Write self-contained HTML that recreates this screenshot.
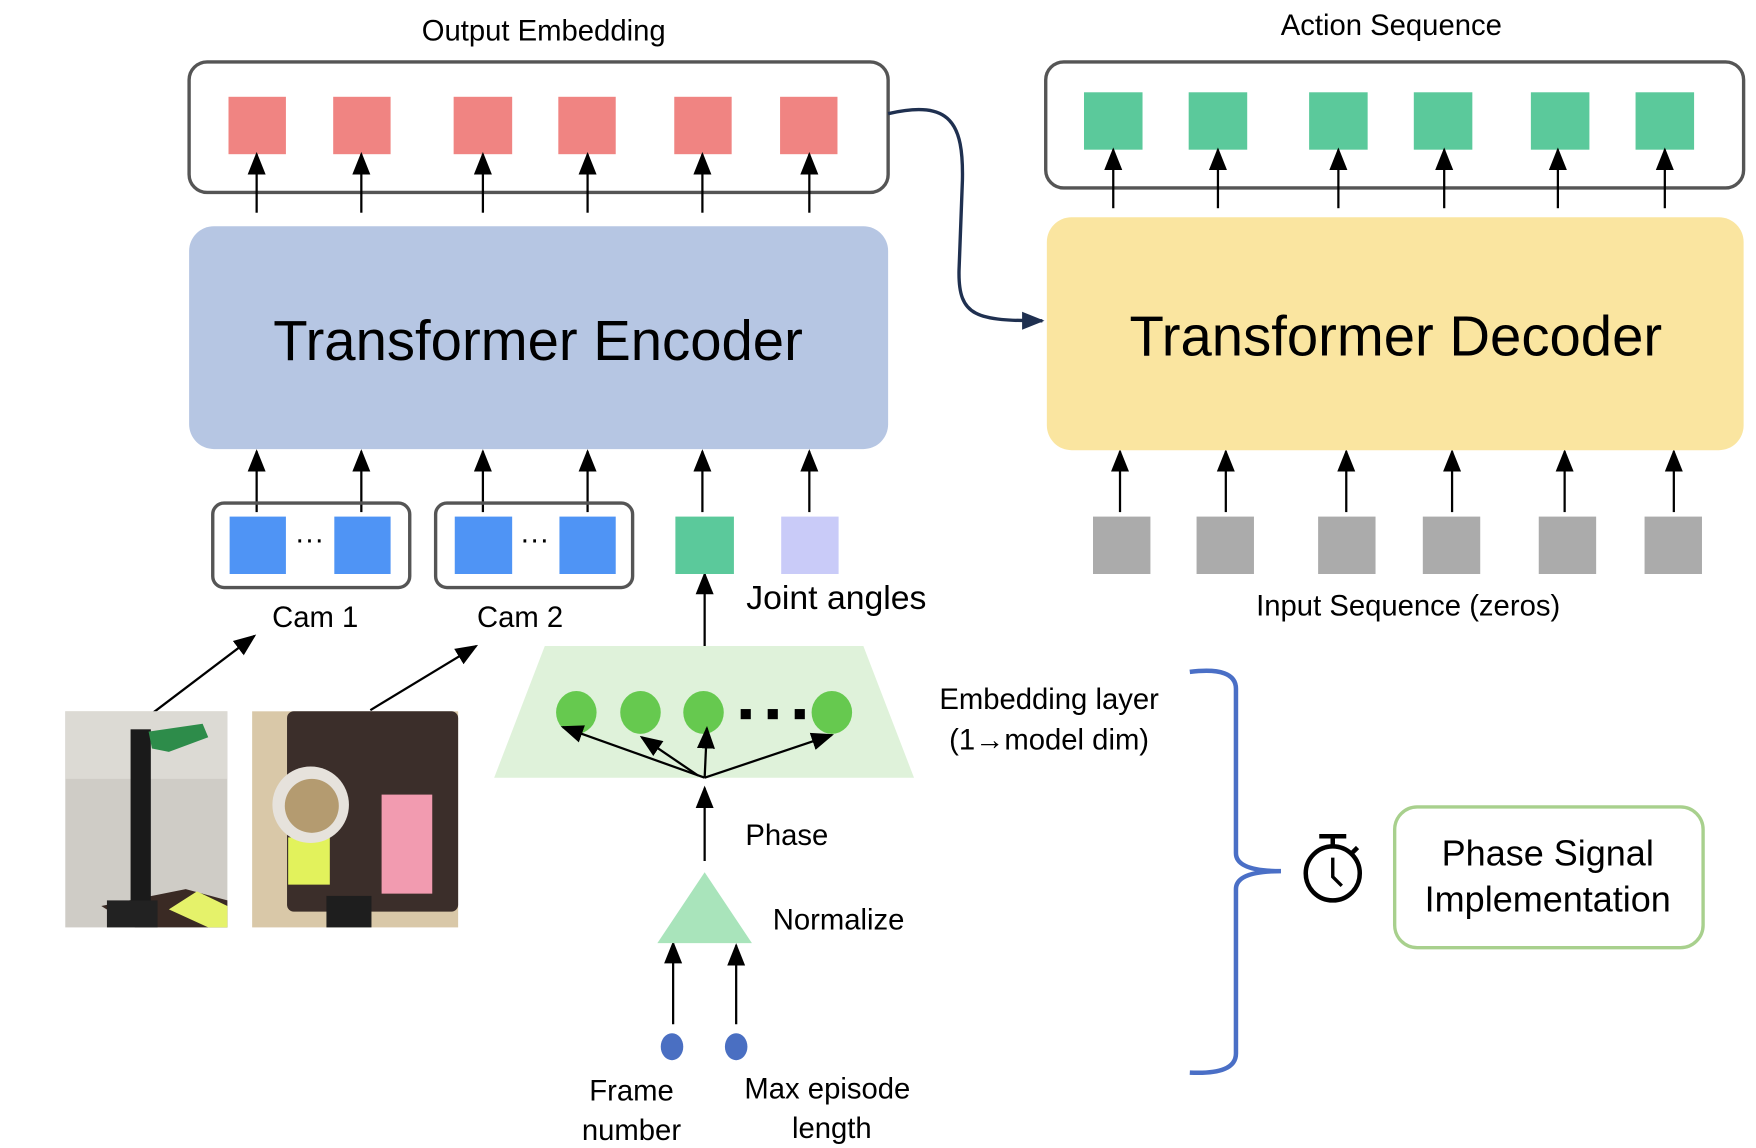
<!DOCTYPE html>
<html><head><meta charset="utf-8"><style>html,body{margin:0;padding:0;background:#fff}svg{display:block}</style></head>
<body>
<svg width="1756" height="1148" viewBox="0 0 1560 1020" preserveAspectRatio="none" xmlns="http://www.w3.org/2000/svg" font-family="Liberation Sans, sans-serif">
<defs>
<marker id="a" markerWidth="10" markerHeight="10" refX="8" refY="5" orient="auto" markerUnits="userSpaceOnUse" viewBox="0 0 10 10"><path d="M0,0 L10,5 L0,10 z" fill="#000"/></marker>
<marker id="ab" markerWidth="20" markerHeight="20" refX="18" refY="10" orient="auto" markerUnits="userSpaceOnUse" viewBox="0 0 20 20"><path d="M0,2 L20,10 L0,18 z" fill="#000"/></marker>
<marker id="an" markerWidth="20" markerHeight="20" refX="18" refY="10" orient="auto" markerUnits="userSpaceOnUse" viewBox="0 0 20 20"><path d="M0,2 L20,10 L0,18 z" fill="#1f3050"/></marker>
</defs>
<rect width="1560" height="1020" fill="#fff"/>
<text x="483" y="36" font-size="26" text-anchor="middle">Output Embedding</text>
<text x="1236" y="31" font-size="26" text-anchor="middle">Action Sequence</text>
<rect x="168" y="55" width="621" height="116" rx="16" fill="none" stroke="#555" stroke-width="3"/>
<rect x="929" y="55" width="620" height="112" rx="16" fill="none" stroke="#555" stroke-width="3"/>
<g fill="#F08482">
<rect x="203" y="86" width="51" height="51"/><rect x="296" y="86" width="51" height="51"/><rect x="403" y="86" width="52" height="51"/><rect x="496" y="86" width="51" height="51"/><rect x="599" y="86" width="51" height="51"/><rect x="693" y="86" width="51" height="51"/></g>
<g fill="#5BC99B">
<rect x="963" y="82" width="52" height="51"/><rect x="1056" y="82" width="52" height="51"/><rect x="1163" y="82" width="52" height="51"/><rect x="1256" y="82" width="52" height="51"/><rect x="1360" y="82" width="52" height="51"/><rect x="1453" y="82" width="52" height="51"/></g>
<g stroke="#000" stroke-width="2" marker-end="url(#ab)">
<line x1="228" y1="189" x2="228" y2="137"/><line x1="321" y1="189" x2="321" y2="137"/><line x1="429" y1="189" x2="429" y2="137"/><line x1="522" y1="189" x2="522" y2="137"/><line x1="624" y1="189" x2="624" y2="137"/><line x1="719" y1="189" x2="719" y2="137"/>
<line x1="989" y1="185" x2="989" y2="133"/><line x1="1082" y1="185" x2="1082" y2="133"/><line x1="1189" y1="185" x2="1189" y2="133"/><line x1="1283" y1="185" x2="1283" y2="133"/><line x1="1384" y1="185" x2="1384" y2="133"/><line x1="1479" y1="185" x2="1479" y2="133"/>
<line x1="228" y1="455" x2="228" y2="401"/><line x1="321" y1="455" x2="321" y2="401"/><line x1="429" y1="455" x2="429" y2="401"/><line x1="522" y1="455" x2="522" y2="401"/><line x1="624" y1="455" x2="624" y2="401"/><line x1="719" y1="455" x2="719" y2="401"/>
<line x1="995" y1="455" x2="995" y2="401"/><line x1="1089" y1="455" x2="1089" y2="401"/><line x1="1196" y1="455" x2="1196" y2="401"/><line x1="1290" y1="455" x2="1290" y2="401"/><line x1="1390" y1="455" x2="1390" y2="401"/><line x1="1487" y1="455" x2="1487" y2="401"/>
<line x1="626" y1="574" x2="626" y2="510"/>
<line x1="626" y1="765" x2="626" y2="700"/>
<line x1="598" y1="910" x2="598" y2="838"/>
<line x1="654" y1="910" x2="654" y2="840"/>
<line x1="131" y1="637" x2="226" y2="565"/>
<line x1="329" y1="631" x2="423" y2="574"/>
</g>
<rect x="168" y="201" width="621" height="198" rx="22" fill="#B6C6E3"/>
<text x="478" y="320" font-size="50" text-anchor="middle">Transformer Encoder</text>
<rect x="930" y="193" width="619" height="207" rx="22" fill="#FAE5A0"/>
<text x="1240" y="316" font-size="50" text-anchor="middle">Transformer Decoder</text>
<path d="M789,101 C845,88 856,110 855,160 L852,240 C851,282 868,285 926,285" fill="none" stroke="#1f3050" stroke-width="3" marker-end="url(#an)"/>
<g fill="#ABABAB">
<rect x="971" y="459" width="51" height="51"/><rect x="1063" y="459" width="51" height="51"/><rect x="1171" y="459" width="51" height="51"/><rect x="1264" y="459" width="51" height="51"/><rect x="1367" y="459" width="51" height="51"/><rect x="1461" y="459" width="51" height="51"/></g>
<text x="1251" y="547" font-size="26" text-anchor="middle">Input Sequence (zeros)</text>
<rect x="189" y="447" width="175" height="75" rx="10" fill="none" stroke="#555" stroke-width="3"/>
<rect x="387" y="447" width="175" height="75" rx="10" fill="none" stroke="#555" stroke-width="3"/>
<g fill="#4F94F5"><rect x="204" y="459" width="50" height="51"/><rect x="297" y="459" width="50" height="51"/><rect x="404" y="459" width="51" height="51"/><rect x="497" y="459" width="50" height="51"/></g>
<text x="275" y="488" font-size="26" text-anchor="middle">···</text>
<text x="475" y="488" font-size="26" text-anchor="middle">···</text>
<rect x="600" y="459" width="52" height="51" fill="#5BC99B"/>
<rect x="694" y="459" width="51" height="51" fill="#C9CBF8"/>
<text x="280" y="557" font-size="26" text-anchor="middle">Cam 1</text>
<text x="462" y="557" font-size="26" text-anchor="middle">Cam 2</text>
<text x="743" y="541" font-size="30" text-anchor="middle">Joint angles</text>
<polygon points="484,574 767,574 812,691 439,691" fill="#DFF2DA"/>
<g fill="#66C94F"><ellipse cx="512" cy="633" rx="18" ry="19"/><ellipse cx="569" cy="633" rx="18" ry="19"/><ellipse cx="625" cy="633" rx="18" ry="19"/><ellipse cx="739" cy="633" rx="18" ry="19"/></g>
<g fill="#000"><rect x="658" y="630" width="9" height="9"/><rect x="682" y="630" width="9" height="9"/><rect x="706" y="630" width="9" height="9"/></g>
<g stroke="#000" stroke-width="2" marker-end="url(#ab)">
<line x1="626" y1="691" x2="500" y2="646"/><line x1="620" y1="689" x2="570" y2="655"/><line x1="626" y1="691" x2="628" y2="647"/><line x1="626" y1="691" x2="739" y2="653"/></g>
<text x="932" y="630" font-size="26" text-anchor="middle">Embedding layer</text>
<text x="932" y="666" font-size="26" text-anchor="middle">(1→model dim)</text>
<text x="699" y="751" font-size="26" text-anchor="middle">Phase</text>
<polygon points="626,775 668,838 584,838" fill="#A9E4BB"/>
<text x="745" y="826" font-size="26" text-anchor="middle">Normalize</text>
<ellipse cx="597" cy="930" rx="10" ry="12" fill="#4A6FC2"/>
<ellipse cx="654" cy="930" rx="10" ry="12" fill="#4A6FC2"/>
<text x="561" y="978" font-size="26" text-anchor="middle">Frame</text>
<text x="561" y="1013" font-size="26" text-anchor="middle">number</text>
<text x="735" y="976" font-size="26" text-anchor="middle">Max episode</text>
<text x="739" y="1011" font-size="26" text-anchor="middle">length</text>
<path d="M1057,597 Q1098,592 1098,612 L1098,758 Q1098,774 1138,774 Q1098,774 1098,790 L1098,936 Q1098,955 1057,953" fill="none" stroke="#4A6FC6" stroke-width="4"/>
<g stroke="#000" stroke-width="4" fill="none"><circle cx="1184" cy="776" r="24"/><line x1="1184" y1="752" x2="1184" y2="744"/><line x1="1172" y1="743" x2="1196" y2="743"/><line x1="1201" y1="758" x2="1206" y2="753"/><polyline points="1184,762 1184,779 1192,787" stroke-width="3"/></g>
<rect x="1239" y="717" width="274" height="125" rx="20" fill="#fff" stroke="#A8D08D" stroke-width="3"/>
<text x="1375" y="769" font-size="32" text-anchor="middle">Phase Signal</text>
<text x="1375" y="810" font-size="32" text-anchor="middle">Implementation</text>
<!-- photo 1 -->
<rect x="58" y="632" width="144" height="192" fill="#cfccc6"/>
<rect x="58" y="632" width="144" height="60" fill="#dcdad4"/>
<polygon points="120,824 202,824 202,800 165,790 90,805" fill="#3a2a24"/>
<polygon points="150,808 175,792 202,805 202,824 185,824" fill="#e5f26a"/>
<rect x="116" y="648" width="18" height="160" fill="#1a1a1a"/>
<polygon points="132,650 180,643 185,655 150,668 135,665" fill="#2d8c4a"/>
<rect x="95" y="800" width="45" height="24" fill="#222"/>
<!-- photo 2 -->
<rect x="224" y="632" width="183" height="192" fill="#d9c8a8"/>
<rect x="255" y="632" width="152" height="178" rx="6" fill="#3b2e2a"/>
<rect x="256" y="744" width="37" height="42" fill="#e2f25c"/>
<rect x="339" y="706" width="45" height="88" fill="#f29bb0"/>
<circle cx="276" cy="715" r="34" fill="#e6e2dc"/>
<circle cx="277" cy="716" r="24" fill="#b49b70"/>
<rect x="290" y="796" width="40" height="28" fill="#1e1e1e"/>
</svg>
</body></html>
